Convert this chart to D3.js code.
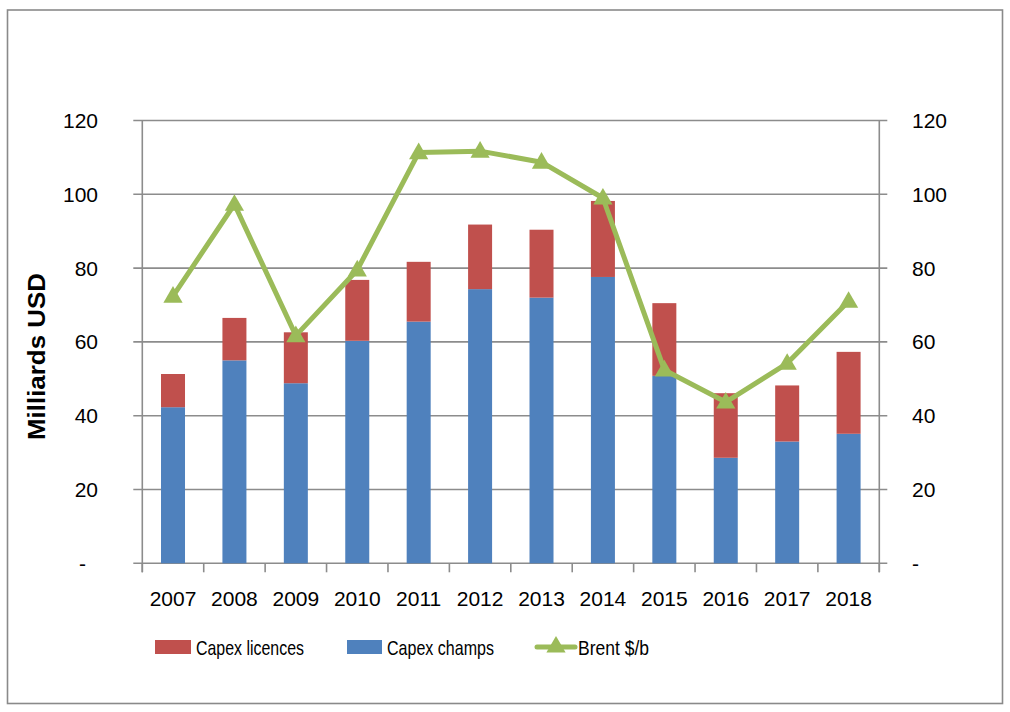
<!DOCTYPE html>
<html><head><meta charset="utf-8">
<script src="https://cdn.jsdelivr.net/npm/d3@7"></script>
<style>body{margin:0;background:#fff}svg{display:block}text{font-family:"Liberation Sans",Arial,sans-serif;fill:#000}</style>
</head><body>
<svg id="c" width="1010" height="712"></svg>
<script>
const years = ["2007","2008","2009","2010","2011","2012","2013","2014","2015","2016","2017","2018"];
const capexChamps = [42.3,55.0,48.8,60.3,65.5,74.3,72.0,77.6,50.8,28.6,33.0,35.1];
const capexLicences = [9.0,11.5,13.8,16.5,16.2,17.5,18.4,20.6,19.7,17.5,15.2,22.2];
const brent = [72.4,97.3,61.7,79.5,111.3,111.7,108.7,99.0,52.4,43.7,54.2,71.0];
const yTicks = [0,20,40,60,80,100,120];
const yTickLabels = ["-","20","40","60","80","100","120"];
const legendLabels = ["Capex licences","Capex champs","Brent $/b"];

const colBlue="#4F81BD", colRed="#C0504D", colGreen="#9BBB59", gridCol="#8c8c8c";
const svg=d3.select("#c");
const L=142.3,R=879.3,T=120.5,B=563.3;
svg.append("rect").attr("x",7.5).attr("y",10).attr("width",995).attr("height",693.5).attr("fill","#fff").attr("stroke","#8a8a8a").attr("stroke-width",1.6);

const y=d3.scaleLinear().domain([0,120]).range([B,T]);
const xb=d3.scaleLinear().domain([0,years.length]).range([L,R]);
const cx=d=>xb(years.indexOf(d)+0.5);

// gridlines
svg.append("g").selectAll("line").data(yTicks).join("line")
 .attr("x1",L-9).attr("x2",R+8).attr("y1",d=>y(d)).attr("y2",d=>y(d))
 .attr("stroke",gridCol).attr("stroke-width",1.6);
[L,R].forEach(xx=>svg.append("line").attr("x1",xx).attr("x2",xx).attr("y1",T).attr("y2",B+9).attr("stroke",gridCol).attr("stroke-width",1.6));
svg.append("g").selectAll("line").data(d3.range(years.length+1)).join("line")
 .attr("x1",d=>xb(d)).attr("x2",d=>xb(d)).attr("y1",B).attr("y2",B+9).attr("stroke",gridCol).attr("stroke-width",1.6);

// bars
svg.append("g").selectAll("rect").data(years).join("rect")
 .attr("x",d=>cx(d)-12).attr("width",24)
 .attr("y",(d,i)=>y(capexChamps[i])).attr("height",(d,i)=>B-y(capexChamps[i])).attr("fill",colBlue);
svg.append("g").selectAll("rect").data(years).join("rect")
 .attr("x",d=>cx(d)-12).attr("width",24)
 .attr("y",(d,i)=>y(capexChamps[i]+capexLicences[i])).attr("height",(d,i)=>y(capexChamps[i])-y(capexChamps[i]+capexLicences[i])).attr("fill",colRed);

// line
const line=d3.line().x((d,i)=>cx(years[i])).y(d=>y(d));
svg.append("path").datum(brent).attr("d",line).attr("fill","none").attr("stroke",colGreen).attr("stroke-width",5).attr("stroke-linejoin","round");
const tri=d3.symbol().type(d3.symbolTriangle).size(160);
svg.append("g").selectAll("path").data(brent).join("path")
 .attr("d",tri).attr("transform",(d,i)=>`translate(${cx(years[i])},${y(d)+1})`).attr("fill",colGreen);

// tick labels
const fs=21;
svg.append("g").selectAll("text").data(yTicks).join("text")
 .attr("x",(d,i)=>i===0?86:98).attr("y",d=>y(d)).attr("dy","0.36em").attr("text-anchor","end").attr("font-size",fs)
 .text((d,i)=>yTickLabels[i]);
svg.append("g").selectAll("text").data(yTicks).join("text")
 .attr("x",912).attr("y",d=>y(d)).attr("dy","0.36em").attr("text-anchor","start").attr("font-size",fs)
 .text((d,i)=>yTickLabels[i]);
svg.append("g").selectAll("text").data(years).join("text")
 .attr("x",d=>cx(d)).attr("y",606).attr("text-anchor","middle").attr("font-size",fs).text(d=>d);

svg.append("text").attr("transform","translate(45,356.5) rotate(-90)").attr("text-anchor","middle")
 .attr("font-size",23).attr("font-weight","bold").attr("textLength",167).attr("lengthAdjust","spacingAndGlyphs").text("Milliards USD");

// legend
const ly=647;
svg.append("rect").attr("x",155).attr("y",ly-7).attr("width",36).attr("height",14).attr("fill",colRed);
svg.append("text").attr("x",196).attr("y",ly).attr("dy","0.36em").attr("font-size",fs).attr("textLength",108).attr("lengthAdjust","spacingAndGlyphs").text(legendLabels[0]);
svg.append("rect").attr("x",347).attr("y",ly-7).attr("width",35).attr("height",14).attr("fill",colBlue);
svg.append("text").attr("x",387).attr("y",ly).attr("dy","0.36em").attr("font-size",fs).attr("textLength",107).attr("lengthAdjust","spacingAndGlyphs").text(legendLabels[1]);
svg.append("line").attr("x1",537).attr("x2",575).attr("y1",ly).attr("y2",ly).attr("stroke",colGreen).attr("stroke-width",5).attr("stroke-linecap","round");
svg.append("path").attr("d",tri).attr("transform",`translate(556,${ly})`).attr("fill",colGreen);
svg.append("text").attr("x",578).attr("y",ly).attr("dy","0.36em").attr("font-size",fs).attr("textLength",71).attr("lengthAdjust","spacingAndGlyphs").text(legendLabels[2]);
</script>
</body></html>
